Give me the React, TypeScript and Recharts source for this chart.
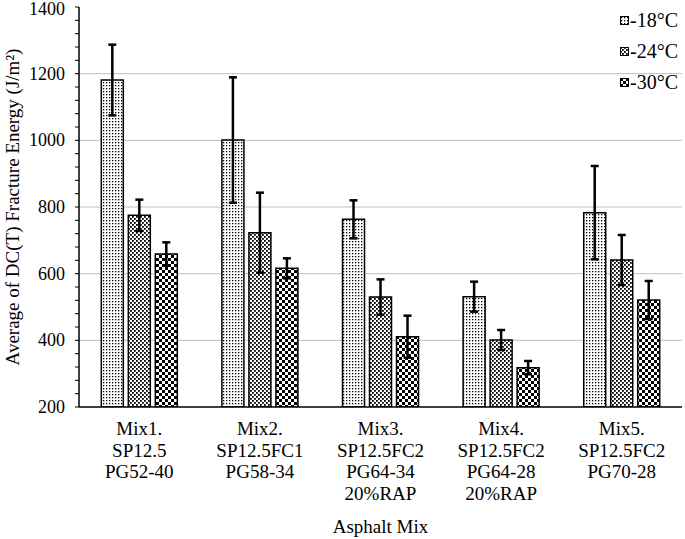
import React from 'react';
import {
  BarChart,
  Bar,
  XAxis,
  YAxis,
  CartesianGrid,
  ErrorBar,
  Label,
} from 'recharts';

const mixes = [
  ['Mix1.', 'SP12.5', 'PG52-40'],
  ['Mix2.', 'SP12.5FC1', 'PG58-34'],
  ['Mix3.', 'SP12.5FC2', 'PG64-34', '20%RAP'],
  ['Mix4.', 'SP12.5FC2', 'PG64-28', '20%RAP'],
  ['Mix5.', 'SP12.5FC2', 'PG70-28'],
];
const t18 = [1181, 1001, 763, 531, 783];
const t24 = [775, 723, 530, 401, 641];
const t30 = [659, 616, 411, 318, 521];
const e18 = [106, 188, 57, 45, 140];
const e24 = [47, 120, 53, 30, 75];
const e30 = [35, 30, 63, 20, 57];
const majorTicks = [200, 400, 600, 800, 1000, 1200, 1400];
const minorTicks = Array.from({ length: 31 }, (_, i) => 200 + i * 40);
const gridValues = [400, 600, 800, 1000, 1200];

const series = [
  { key: 't18', err: 'e18', name: '-18°C', fill: 'url(#p18)' },
  { key: 't24', err: 'e24', name: '-24°C', fill: 'url(#p24)' },
  { key: 't30', err: 'e30', name: '-30°C', fill: 'url(#p30)' },
];

const data = mixes.map((m, i) => ({
  name: m.join('\n'),
  t18: t18[i],
  t24: t24[i],
  t30: t30[i],
  e18: e18[i],
  e24: e24[i],
  e30: e30[i],
}));

const font = '"Liberation Serif", "Times New Roman", serif';

const XTick = (props: any) => {
  const { x, y, payload } = props;
  const lines = String(payload.value).split('\n');
  return (
    <g transform={`translate(${x},${y})`}>
      {lines.map((l, i) => (
        <text
          key={i}
          x={0}
          y={20 + i * 21.7}
          textAnchor='middle'
          fontFamily={font}
          fontSize={19}
          fill='#000'
        >
          {l}
        </text>
      ))}
    </g>
  );
};

const YTick = (props: any) => {
  const { x, y, payload } = props;
  if (!majorTicks.includes(payload.value)) return <g />;
  return (
    <text
      x={x}
      y={Math.max(y + 6, 15)}
      textAnchor='end'
      fontFamily={font}
      fontSize={18}
      fill='#000'
    >
      {payload.value}
    </text>
  );
};

const LegendBox = () => (
  <div
    style={{
      position: 'absolute',
      top: 5,
      right: 7,
      fontFamily: font,
      fontSize: 20,
      color: '#000',
    }}
  >
    {series.map((s) => (
      <div
        key={s.key}
        style={{ display: 'flex', alignItems: 'center', height: 31, justifyContent: 'flex-end' }}
      >
        <svg width={9} height={9} style={{ marginRight: 1 }}>
          <rect x={0.5} y={0.5} width={8} height={8} fill={s.fill} stroke='#000' strokeWidth={1} />
        </svg>
        <span>{s.name}</span>
      </div>
    ))}
  </div>
);

export default function App() {
  return (
    <div style={{ position: 'absolute', left: 0, top: 0, width: 685, height: 539, background: '#fff' }}>
      <BarChart
        width={685}
        height={539}
        data={data}
        margin={{ top: 7, right: 3, left: 0, bottom: 0 }}
        barCategoryGap='18.5%'
        barGap={5}
      >
        <defs>
          <pattern id='p18' width={3} height={3} patternUnits='userSpaceOnUse'>
            <rect width={3} height={3} fill='#fff' />
            <rect x={1} y={1} width={1.3} height={1.3} fill='#000' />
          </pattern>
          <pattern id='p24' width={4} height={4} patternUnits='userSpaceOnUse'>
            <rect width={4} height={4} fill='#fff' />
            <rect x={0} y={0} width={1.8} height={1.8} fill='#000' />
            <rect x={2} y={2} width={1.8} height={1.8} fill='#000' />
          </pattern>
          <pattern id='p30' width={6} height={6} patternUnits='userSpaceOnUse'>
            <rect width={6} height={6} fill='#fff' />
            <rect x={0} y={0} width={3} height={3} fill='#000' />
            <rect x={3} y={3} width={3} height={3} fill='#000' />
          </pattern>
        </defs>
        <CartesianGrid vertical={false} stroke='#bfbfbf' horizontalValues={gridValues} />
        <XAxis
          dataKey='name'
          height={132}
          tick={<XTick />}
          tickLine={false}
          axisLine={{ stroke: '#000', strokeWidth: 1.5 }}
          interval={0}
        >
          <Label
            value='Asphalt Mix'
            position='insideBottom'
            offset={6}
            style={{ fontFamily: font, fontSize: 19, fill: '#000' }}
          />
        </XAxis>
        <XAxis
          xAxisId='top'
          dataKey='name'
          orientation='top'
          height={0}
          tick={false}
          tickLine={false}
          axisLine={{ stroke: '#000', strokeWidth: 1.5 }}
        />
        <YAxis
          domain={[200, 1400]}
          ticks={minorTicks}
          interval={0}
          width={79}
          tick={<YTick />}
          tickSize={4}
          tickMargin={10}
          tickLine={{ stroke: '#000' }}
          axisLine={{ stroke: '#000', strokeWidth: 1.5 }}
          allowDataOverflow
        >
          <Label
            value='Average of DC(T) Fracture Energy (J/m²)'
            angle={-90}
            position='insideLeft'
            offset={12}
            style={{ fontFamily: font, fontSize: 19, fill: '#000', textAnchor: 'middle' }}
          />
        </YAxis>
        <YAxis
          yAxisId='right'
          orientation='right'
          width={0}
          domain={[200, 1400]}
          tick={false}
          tickLine={false}
          axisLine={{ stroke: '#000', strokeWidth: 1.5 }}
        />
        {series.map((s) => (
          <Bar
            key={s.key}
            dataKey={s.key}
            name={s.name}
            fill={s.fill}
            stroke='#000'
            strokeWidth={1.5}
            isAnimationActive={false}
          >
            <ErrorBar dataKey={s.err} width={4} stroke='#000' strokeWidth={2.5} />
          </Bar>
        ))}
      </BarChart>
      <LegendBox />
    </div>
  );
}
